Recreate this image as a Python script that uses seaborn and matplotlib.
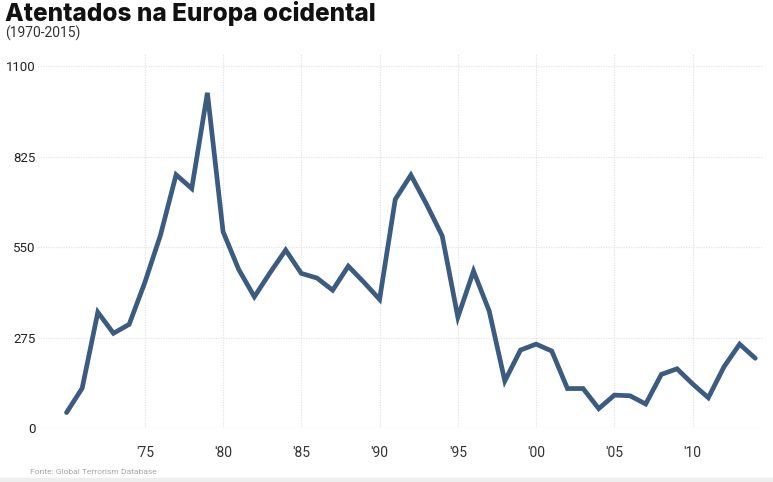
import matplotlib
matplotlib.use('Agg')
import matplotlib.pyplot as plt
import seaborn as sns
import pandas as pd

# ── Data ────────────────────────────────────────────────────────────────────
years = list(range(1970, 2015))
attacks = [47, 121, 352, 288, 315, 442, 586, 770, 728, 1019,
           597, 482, 399, 472, 541, 470, 456, 419, 492, 443,
           391, 695, 769, 680, 584, 337, 477, 356, 143, 237,
           255, 234, 120, 120, 59, 100, 98, 73, 163, 180,
           134, 92, 186, 255, 212]
ytick_vals = [0, 275, 550, 825, 1100]
xtick_years = [1975, 1980, 1985, 1990, 1995, 2000, 2005, 2010]
xtick_labels = ["'75", "'80", "'85", "'90", "'95", "'00", "'05", "'10"]

df = pd.DataFrame({"ano": years, "atentados": attacks})

sns.set_style("white")
plt.rcParams['font.family'] = ['Roboto', 'DejaVu Sans']

fig = plt.figure(figsize=(7.73, 4.82), dpi=100)
ax = fig.add_axes([0.049, 0.112, 0.938, 0.778])

sns.lineplot(data=df, x="ano", y="atentados", ax=ax, color="#3b5b80",
             linewidth=3.4, solid_joinstyle='miter', solid_capstyle='round')

ax.set_xlim(1968.17, 2014.49)
ax.set_ylim(0, 1140)
ax.set_xticks(xtick_years)
ax.set_xticklabels(xtick_labels)
ax.set_yticks(ytick_vals)
ax.set_yticklabels([str(v) for v in ytick_vals])
ax.set_xlabel(""); ax.set_ylabel("")
ax.grid(True, color="#e4e4e4", linestyle=(0, (1, 1)), linewidth=0.9)
ax.set_axisbelow(True)
for s in ax.spines.values():
    s.set_visible(False)
ax.tick_params(axis='x', length=0, pad=13, labelsize=10, labelcolor="#333333")
ax.tick_params(axis='y', length=0, pad=1.5, labelsize=9.5, labelcolor="#222222")

# titles / source
fig.text(0.006, 0.957, "Atentados na Europa ocidental", fontsize=17.5,
         family=['Inter', 'DejaVu Sans'], fontweight=800,
         color="#111111", va='baseline', ha='left')
fig.text(0.006, 0.921, "(1970-2015)", fontsize=10, color="#333333",
         va='baseline', ha='left')
fig.text(0.039, 0.016, "Fonte: Global Terrorism Database", fontsize=6.1,
         color="#a8a8a8", va='baseline', ha='left')

# light strip at the bottom
fig.patches.append(plt.Rectangle((0, 0), 1, 4 / 482, transform=fig.transFigure,
                                 color="#eeeeee", zorder=0))

plt.savefig("out.png", dpi=100)
